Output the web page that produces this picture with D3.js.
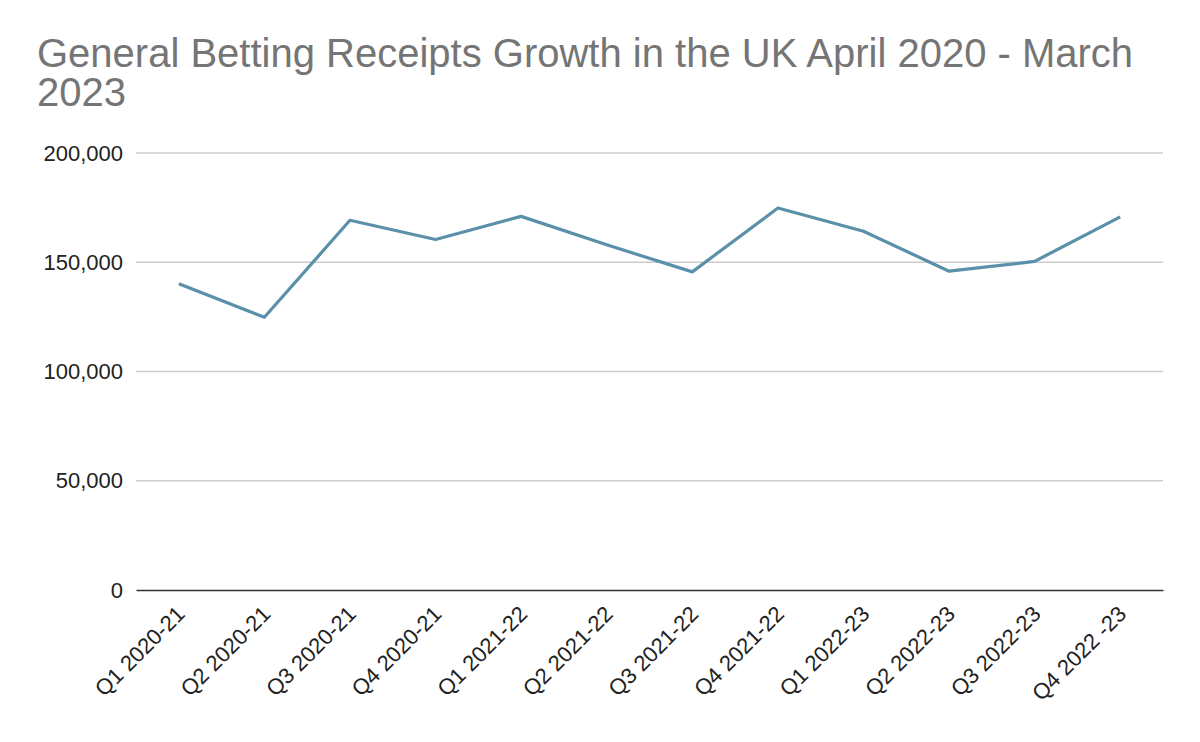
<!DOCTYPE html>
<html><head><meta charset="utf-8">
<script src="https://cdn.jsdelivr.net/npm/d3@7"></script>
<style>body{margin:0;background:#fff;}svg{display:block;font-family:"Liberation Sans",Arial,sans-serif;}</style>
</head><body><svg id="c" width="1200" height="742"></svg>
<script>
const categories = ["Q1 2020-21","Q2 2020-21","Q3 2020-21","Q4 2020-21","Q1 2021-22","Q2 2021-22","Q3 2021-22","Q4 2021-22","Q1 2022-23","Q2 2022-23","Q3 2022-23","Q4 2022 -23"];
const receipts = [140200, 124800, 169200, 160400, 171000, 158000, 145600, 174800, 164200, 145900, 150400, 170800];
const yTicks = [0, 50000, 100000, 150000, 200000];
const titleLines = ["General Betting Receipts Growth in the UK April 2020 - March", "2023"];

const svg = d3.select("#c");
const m = {l:136, r:1163, t:153, b:590};
const x = d3.scaleBand().domain(categories).range([m.l, m.r]);
const y = d3.scaleLinear().domain([0, 200000]).range([m.b, m.t]);

svg.append("g").selectAll("text").data(titleLines).join("text")
  .attr("x", 37).attr("y", (d,i)=>67 + i*39)
  .attr("font-size", 40).attr("fill", "#757575").text(d=>d);

// gridlines
svg.append("g").selectAll("line").data(yTicks.filter(t=>t>0)).join("line")
  .attr("x1", m.l).attr("x2", m.r).attr("y1", d=>y(d)).attr("y2", d=>y(d))
  .attr("stroke", "#cccccc").attr("stroke-width", 1.3);

// y axis
const yAxis = d3.axisLeft(y).tickValues(yTicks).tickSize(0).tickPadding(13)
  .tickFormat(d3.format(","));
const gy = svg.append("g").attr("transform", `translate(${m.l},0)`).call(yAxis);
gy.select(".domain").remove();
gy.selectAll("text").attr("font-size", 22).attr("fill", "#222").attr("font-family", "Liberation Sans, Arial, sans-serif");

// x axis
const xAxis = d3.axisBottom(x).tickSize(0).tickPadding(0);
const gx = svg.append("g").attr("transform", `translate(0,${m.b})`).call(xAxis);
gx.select(".domain").attr("stroke", "#333").attr("stroke-width", 1.6);
gx.selectAll("text")
  .attr("font-size", 22).attr("fill", "#222").attr("font-family", "Liberation Sans, Arial, sans-serif")
  .attr("text-anchor", "end").attr("dy", "0.35em")
  .attr("transform", "translate(2,20) rotate(-45)");

// line
const line = d3.line().x((d,i)=>x(categories[i]) + x.bandwidth()/2).y(d=>y(d));
svg.append("path").datum(receipts).attr("d", line)
  .attr("fill", "none").attr("stroke", "#5b90aa").attr("stroke-width", 3.2)
  .attr("stroke-linejoin", "round");
</script></body></html>
